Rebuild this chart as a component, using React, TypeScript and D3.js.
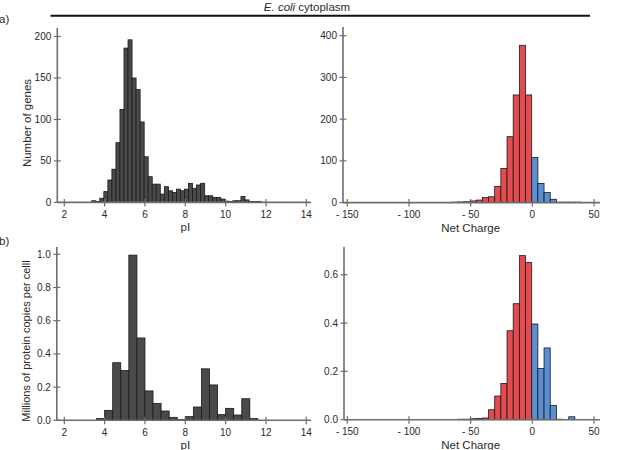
import React from 'react';
import * as d3 from 'd3';

// ---- Data ----
// a) pI histogram, number of genes (bin width 0.2)
const pIGenesStart = 3.36;
const pIGenesWidth = 0.2;
const pIGenesCounts = [2, 1, 5, 13, 27, 40, 72, 112, 186, 196, 150, 136, 97, 55, 31, 22, 22, 10, 19, 14, 12, 16, 14, 16, 23, 17, 21, 23, 8, 8, 6, 6, 4, 1.5, 1, 2, 2, 7, 3, 1, 1, 1];

// a) net charge histogram, number of genes (bin width 5)
const chargeGenesStart = -65.5;
const chargeWidth = 5;
const chargeGenesCounts = [1, 1.5, 2, 4, 6, 12, 14, 39, 82, 158, 258, 377, 258, 108, 46, 24, 8, 1, 1, 1, 1];

// b) pI histogram, millions of protein copies per cell (bin width 0.4)
const pICopiesStart = 3.6;
const pICopiesWidth = 0.4;
const pICopies = [0.01, 0.06, 0.347, 0.3, 0.995, 0.496, 0.177, 0.102, 0.056, 0.018, 0.004, 0.022, 0.08, 0.31, 0.213, 0.034, 0.072, 0.032, 0.13, 0.01];

// b) net charge histogram, millions of protein copies per cell
const chargeCopiesStart = -60.5;
const chargeCopies = [0.002, 0.002, 0.004, 0.005, 0.007, 0.041, 0.098, 0.15, 0.368, 0.48, 0.679, 0.65, 0.396, 0.212, 0.297, 0.059, 0.002, 0, 0.012];

const pITicks = [2, 4, 6, 8, 10, 12, 14];
const chargeTicks = [-150, -100, -50, 0, 50];
const chargeTickLabels = ['- 150', '- 100', '- 50', '0', '50'];
const genesPITicks = [0, 50, 100, 150, 200];
const genesChargeTicks = [0, 100, 200, 300, 400];
const copiesPITicks = [0, 0.2, 0.4, 0.6, 0.8, 1.0];
const copiesChargeTicks = [0, 0.2, 0.4, 0.6];

const FONT = '"Liberation Sans", Arial, Helvetica, sans-serif';
const AXIS = '#6e6e6e';
const TEXT = '#2a2a2a';
const GRAY = '#4a4a4a';
const RED = '#e34b4f';
const BLUE = '#5b8fd4';

type PanelProps = {
  xDomain: [number, number];
  xRange: [number, number];
  yDomain: [number, number];
  yRange: [number, number];
  axisX: number;
  axisRight: number;
  axisTop: number;
  start: number;
  width: number;
  values: number[];
  colorBySign?: boolean;
  xTicks: number[];
  xTickLabels?: string[];
  yTicks: number[];
  yFormat: (v: number) => string;
  xTitle: string;
};

function Panel(p: PanelProps) {
  const xs = d3.scaleLinear().domain(p.xDomain).range(p.xRange);
  const ys = d3.scaleLinear().domain(p.yDomain).range(p.yRange);
  const zeroY = ys(0);
  const bins = p.values.map((v, i) => {
    const s = p.start + i * p.width;
    return { s, e: s + p.width, v };
  });
  return (
    <g>
      {bins.map((b, i) => {
        const x0 = xs(b.s);
        const x1 = xs(b.e);
        const y = ys(b.v);
        const fill = p.colorBySign ? (b.e <= 0 ? RED : BLUE) : GRAY;
        return (
          <rect
            key={i}
            x={x0}
            y={y}
            width={x1 - x0}
            height={Math.max(0, zeroY - y)}
            fill={fill}
            stroke="#1a1a1a"
            strokeWidth={0.8}
          />
        );
      })}
      {/* axes */}
      <line x1={p.axisX} x2={p.axisX} y1={p.axisTop} y2={zeroY} stroke={AXIS} strokeWidth={1.6} />
      <line x1={p.axisX} x2={p.axisRight} y1={zeroY} y2={zeroY} stroke={AXIS} strokeWidth={1.6} />
      {p.yTicks.map((t, i) => (
        <g key={'y' + i}>
          <line x1={p.axisX - 3.5} x2={p.axisX + 3.5} y1={ys(t)} y2={ys(t)} stroke={AXIS} strokeWidth={1.2} />
          <text
            x={p.axisX - 6}
            y={ys(t)}
            dy="0.35em"
            textAnchor="end"
            fontSize={10}
            fill={TEXT}
            fontFamily={FONT}
          >
            {p.yFormat(t)}
          </text>
        </g>
      ))}
      {p.xTicks.map((t, i) => (
        <g key={'x' + i}>
          <line x1={xs(t)} x2={xs(t)} y1={zeroY - 3.5} y2={zeroY + 4} stroke={AXIS} strokeWidth={1.2} />
          <text
            x={xs(t)}
            y={zeroY + 12}
            dy="0.35em"
            textAnchor="middle"
            fontSize={10}
            fill={TEXT}
            fontFamily={FONT}
          >
            {p.xTickLabels ? p.xTickLabels[i] : String(t)}
          </text>
        </g>
      ))}
      <text
        x={(xs(p.xDomain[0]) + xs(p.xDomain[1])) / 2}
        y={zeroY + 25}
        dy="0.35em"
        textAnchor="middle"
        fontSize={11.5}
        fill={TEXT}
        fontFamily={FONT}
      >
        {p.xTitle}
      </text>
    </g>
  );
}

export default function App() {
  const fmtInt = (v: number) => d3.format('d')(v);
  const fmt1 = (v: number) => d3.format('.1f')(v);
  return (
    <svg
      width={617}
      height={450}
      viewBox="0 0 617 450"
      style={{ position: 'absolute', left: 0, top: 0, background: '#fff' }}
    >
      <rect x={0} y={0} width={617} height={450} fill="#fff" />
      {/* header */}
      <text x={307} y={7} dy="0.35em" textAnchor="middle" fontSize={11.5} fill={TEXT} fontFamily={FONT}>
        <tspan fontStyle="italic">E. coli</tspan> cytoplasm
      </text>
      <line x1={50.5} x2={590} y1={15.7} y2={15.7} stroke="#111" strokeWidth={2} />
      <text x={-1} y={19} dy="0.35em" fontSize={11.5} fill={TEXT} fontFamily={FONT}>a)</text>
      <text x={-1} y={241} dy="0.35em" fontSize={11.5} fill={TEXT} fontFamily={FONT}>b)</text>

      {/* y titles */}
      <text
        transform="translate(26.5,123) rotate(-90)"
        dy="0.35em"
        textAnchor="middle"
        fontSize={11.5}
        fill={TEXT}
        fontFamily={FONT}
      >
        Number of genes
      </text>
      <text
        transform="translate(26.5,341) rotate(-90)"
        dy="0.35em"
        textAnchor="middle"
        fontSize={11}
        fill={TEXT}
        fontFamily={FONT}
      >
        Millions of protein copies per celll
      </text>

      {/* a) pI */}
      <Panel
        xDomain={[2, 14]}
        xRange={[64.3, 306.3]}
        yDomain={[0, 200]}
        yRange={[202.4, 36.5]}
        axisX={57.3}
        axisRight={311}
        axisTop={28}
        start={pIGenesStart}
        width={pIGenesWidth}
        values={pIGenesCounts}
        xTicks={pITicks}
        yTicks={genesPITicks}
        yFormat={fmtInt}
        xTitle="pI"
      />
      {/* a) net charge */}
      <Panel
        xDomain={[-150, 50]}
        xRange={[347.3, 594]}
        yDomain={[0, 400]}
        yRange={[202.6, 35.7]}
        axisX={343}
        axisRight={600}
        axisTop={27}
        start={chargeGenesStart}
        width={chargeWidth}
        values={chargeGenesCounts}
        colorBySign
        xTicks={chargeTicks}
        xTickLabels={chargeTickLabels}
        yTicks={genesChargeTicks}
        yFormat={fmtInt}
        xTitle="Net Charge"
      />
      {/* b) pI */}
      <Panel
        xDomain={[2, 14]}
        xRange={[64.3, 306.3]}
        yDomain={[0, 1]}
        yRange={[420.3, 254.3]}
        axisX={56.8}
        axisRight={311}
        axisTop={247}
        start={pICopiesStart}
        width={pICopiesWidth}
        values={pICopies}
        xTicks={pITicks}
        yTicks={copiesPITicks}
        yFormat={fmt1}
        xTitle="pI"
      />
      {/* b) net charge */}
      <Panel
        xDomain={[-150, 50]}
        xRange={[347.3, 594]}
        yDomain={[0, 0.6]}
        yRange={[419.7, 274.7]}
        axisX={344}
        axisRight={600}
        axisTop={247}
        start={chargeCopiesStart}
        width={chargeWidth}
        values={chargeCopies}
        colorBySign
        xTicks={chargeTicks}
        xTickLabels={chargeTickLabels}
        yTicks={copiesChargeTicks}
        yFormat={fmt1}
        xTitle="Net Charge"
      />
    </svg>
  );
}
